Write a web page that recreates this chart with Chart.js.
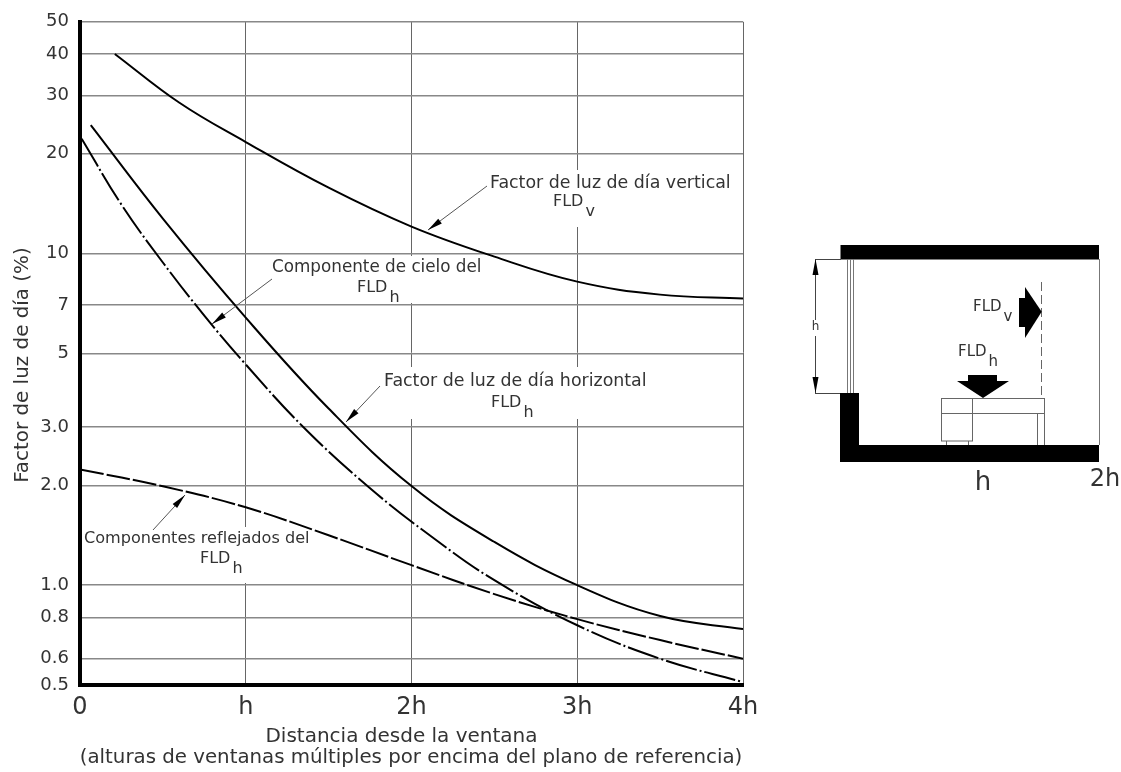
<!DOCTYPE html>
<html lang="es">
<head>
<meta charset="utf-8">
<title>Factor de luz de día</title>
<script src="https://cdn.jsdelivr.net/npm/chart.js@4/dist/chart.umd.min.js"></script>
<style>
  html, body { margin: 0; padding: 0; background: #fff; }
  canvas { display: block; }
</style>
</head>
<body>
<canvas id="myChart" width="1121" height="772"></canvas>
<script>
const xTickLabels = ["0", "h", "2h", "3h", "4h"];
const yTickValues = [50, 40, 30, 20, 10, 7, 5, 3, 2, 1, 0.8, 0.6, 0.5];
const yTickLabels = ["50", "40", "30", "20", "10", "7", "5", "3.0", "2.0", "1.0", "0.8", "0.6", "0.5"];

// distancia en alturas de ventana, valores en %
const verticalX = [0.21, 0.6, 1, 1.5, 2, 2.5, 3, 3.5, 4];
const verticalY = [40, 28.5, 21.7, 15.8, 12.06, 9.79, 8.23, 7.52, 7.32];

const horizontalX = [0.065, 0.5, 1, 1.5, 2, 2.5, 3, 3.5, 4];
const horizontalY = [24.4, 12.75, 6.41, 3.41, 1.99, 1.35, 1, 0.807, 0.737];

const skyX = [0.01, 0.25, 0.5, 0.75, 1, 1.35, 1.75, 2.13, 2.5, 3, 3.5, 4];
const skyY = [22.2, 14.05, 9.4, 6.5, 4.63, 2.99, 1.96, 1.39, 1.035, 0.757, 0.6, 0.51];

const reflectedX = [0, 0.5, 1, 1.5, 2, 2.5, 3, 3.5, 4];
const reflectedY = [2.235, 1.987, 1.717, 1.414, 1.149, 0.94, 0.79, 0.683, 0.6];

const FONT = '"DejaVu Sans"';
const TEXT_COLOR = "#333";

function toPoints(xs, ys) {
    return xs.map((x, i) => ({ x: x, y: ys[i] }));
}

function text(ctx, str, x, y, size, align) {
    ctx.font = size + "px " + FONT;
    ctx.fillStyle = TEXT_COLOR;
    ctx.textAlign = align || "left";
    ctx.textBaseline = "middle";
    ctx.fillText(str, x, y);
}

function fld(ctx, sub, x, y, size) {
    text(ctx, "FLD", x, y, size);
    const w = ctx.measureText("FLD").width;
    text(ctx, sub, x + w + 2, y + 10, size);
}

function leader(ctx, x1, y1, x2, y2) {
    ctx.strokeStyle = "#555";
    ctx.lineWidth = 1;
    ctx.beginPath();
    ctx.moveTo(x1, y1);
    ctx.lineTo(x2, y2);
    ctx.stroke();
    // punta de flecha
    const a = Math.atan2(y2 - y1, x2 - x1);
    const len = 15, wid = 3;
    const bx = x2 - Math.cos(a) * len, by = y2 - Math.sin(a) * len;
    ctx.fillStyle = "#000";
    ctx.beginPath();
    ctx.moveTo(x2, y2);
    ctx.lineTo(bx - Math.sin(a) * wid, by + Math.cos(a) * wid);
    ctx.lineTo(bx + Math.sin(a) * wid, by - Math.cos(a) * wid);
    ctx.closePath();
    ctx.fill();
}

function poly(ctx, pts) {
    ctx.beginPath();
    pts.forEach((p, i) => i ? ctx.lineTo(p[0], p[1]) : ctx.moveTo(p[0], p[1]));
    ctx.closePath();
    ctx.fill();
}

function line(ctx, x1, y1, x2, y2) {
    ctx.beginPath();
    ctx.moveTo(x1, y1);
    ctx.lineTo(x2, y2);
    ctx.stroke();
}

function drawRoom(ctx) {
    ctx.fillStyle = "#000";
    ctx.fillRect(840.5, 245, 258.5, 14.5);
    ctx.fillRect(840, 445, 259, 17);
    ctx.fillRect(840, 393, 19, 52);

    ctx.strokeStyle = "#777";
    ctx.lineWidth = 1;
    line(ctx, 1099.5, 259, 1099.5, 445);
    line(ctx, 847.5, 259, 847.5, 393);
    line(ctx, 850.5, 259, 850.5, 393);
    line(ctx, 853.5, 259, 853.5, 393);

    // cota h
    ctx.strokeStyle = "#444";
    line(ctx, 815, 259.5, 841, 259.5);
    line(ctx, 815, 393.5, 840, 393.5);
    line(ctx, 815.5, 259, 815.5, 393);
    ctx.fillStyle = "#000";
    poly(ctx, [[815.5, 259], [812.5, 275], [818.5, 275]]);
    poly(ctx, [[815.5, 393], [812.5, 377], [818.5, 377]]);
    ctx.fillStyle = "#fff";
    ctx.fillRect(808, 320, 15, 16);
    text(ctx, "h", 815.5, 327, 12, "center");

    // mesa
    ctx.strokeStyle = "#666";
    ctx.strokeRect(941.5, 398.5, 103, 15);
    ctx.strokeRect(941.5, 398.5, 31, 42.5);
    line(ctx, 1037.5, 413, 1037.5, 445);
    line(ctx, 1044.5, 413, 1044.5, 445);
    line(ctx, 946.5, 441, 946.5, 445);
    line(ctx, 968.5, 441, 968.5, 445);

    // plano vertical
    ctx.setLineDash([9, 4]);
    line(ctx, 1041.5, 282, 1041.5, 397);
    ctx.setLineDash([]);

    ctx.fillStyle = "#000";
    ctx.fillRect(1019, 298, 8, 29);
    poly(ctx, [[1025, 287], [1041.7, 311.7], [1025, 338]]);
    ctx.fillRect(968, 375, 29, 7);
    poly(ctx, [[957, 381], [1009, 381], [983, 398]]);

    fld(ctx, "v", 973, 307, 15);
    fld(ctx, "h", 958, 352, 15);
    text(ctx, "h", 983, 483, 26, "center");
    text(ctx, "2h", 1105, 480, 24, "center");
}

const annotations = {
    id: "annotations",
    beforeDatasetsDraw(chart) {
        // las etiquetas cortan la cuadricula
        const ctx = chart.ctx;
        ctx.save();
        ctx.fillStyle = "#fff";
        ctx.fillRect(488, 170, 247, 57);
        ctx.fillRect(270, 256, 215, 47);
        ctx.fillRect(380, 367, 270, 52);
        ctx.fillRect(84, 527, 226, 56);
        ctx.restore();
    },
    afterDraw(chart) {
        const ctx = chart.ctx;
        ctx.save();
        text(ctx, "Factor de luz de día vertical", 490, 183, 17.4);
        fld(ctx, "v", 553, 202, 16);
        text(ctx, "Componente de cielo del", 272, 268, 16.8);
        fld(ctx, "h", 357, 288, 16);
        text(ctx, "Factor de luz de día horizontal", 384, 381, 17.4);
        fld(ctx, "h", 491, 403, 16);
        text(ctx, "Componentes reflejados del", 84, 539, 16.1);
        fld(ctx, "h", 200, 559, 16);

        leader(ctx, 487, 186, 428, 230);
        leader(ctx, 272, 279, 212, 324);
        leader(ctx, 380, 386, 346, 422);
        leader(ctx, 153, 530, 185, 495);

        ctx.save();
        ctx.translate(23, 365);
        ctx.rotate(-Math.PI / 2);
        text(ctx, "Factor de luz de día (%)", 0, 0, 19.9, "center");
        ctx.restore();
        text(ctx, "Distancia desde la ventana", 401.5, 737, 20, "center");
        text(ctx, "(alturas de ventanas múltiples por encima del plano de referencia)", 411, 758, 19.8, "center");

        drawRoom(ctx);
        ctx.restore();
    }
};

function curve(label, xs, ys, dash) {
    return {
        label: label,
        data: toPoints(xs, ys),
        borderColor: "#000",
        borderWidth: 2,
        borderDash: dash,
        pointRadius: 0,
        fill: false,
        tension: 0.4
    };
}

new Chart(document.getElementById("myChart"), {
    type: "line",
    data: {
        datasets: [
            curve("Factor de luz de día vertical", verticalX, verticalY, []),
            curve("Factor de luz de día horizontal", horizontalX, horizontalY, []),
            curve("Componente de cielo del FLDh", skyX, skyY, [32, 3, 2, 3]),
            curve("Componentes reflejados del FLDh", reflectedX, reflectedY, [24, 3])
        ]
    },
    options: {
        responsive: false,
        animation: false,
        layout: { padding: { top: 21, right: 378, left: 0, bottom: 0 } },
        plugins: { legend: { display: false }, title: { display: false }, tooltip: { enabled: false } },
        scales: {
            x: {
                type: "linear",
                min: 0,
                max: 4,
                afterFit(scale) { scale.height = 87; },
                grid: { color: "#666", lineWidth: 1, drawTicks: false },
                border: { color: "#000", width: 4 },
                ticks: {
                    stepSize: 1,
                    padding: 8,
                    maxRotation: 0,
                    color: TEXT_COLOR,
                    font: { family: FONT, size: 24 },
                    callback: (v) => xTickLabels[v]
                }
            },
            y: {
                type: "logarithmic",
                min: 0.5,
                max: 50,
                afterFit(scale) { scale.width = 80; },
                afterBuildTicks(scale) { scale.ticks = yTickValues.map(v => ({ value: v })); },
                grid: { color: "#888", lineWidth: 1.5, drawTicks: false },
                border: { color: "#000", width: 4 },
                ticks: {
                    padding: 11,
                    autoSkip: false,
                    color: TEXT_COLOR,
                    font: { family: FONT, size: 18 },
                    callback: (v) => yTickLabels[yTickValues.indexOf(v)]
                }
            }
        }
    },
    plugins: [annotations]
});
</script>
</body>
</html>
